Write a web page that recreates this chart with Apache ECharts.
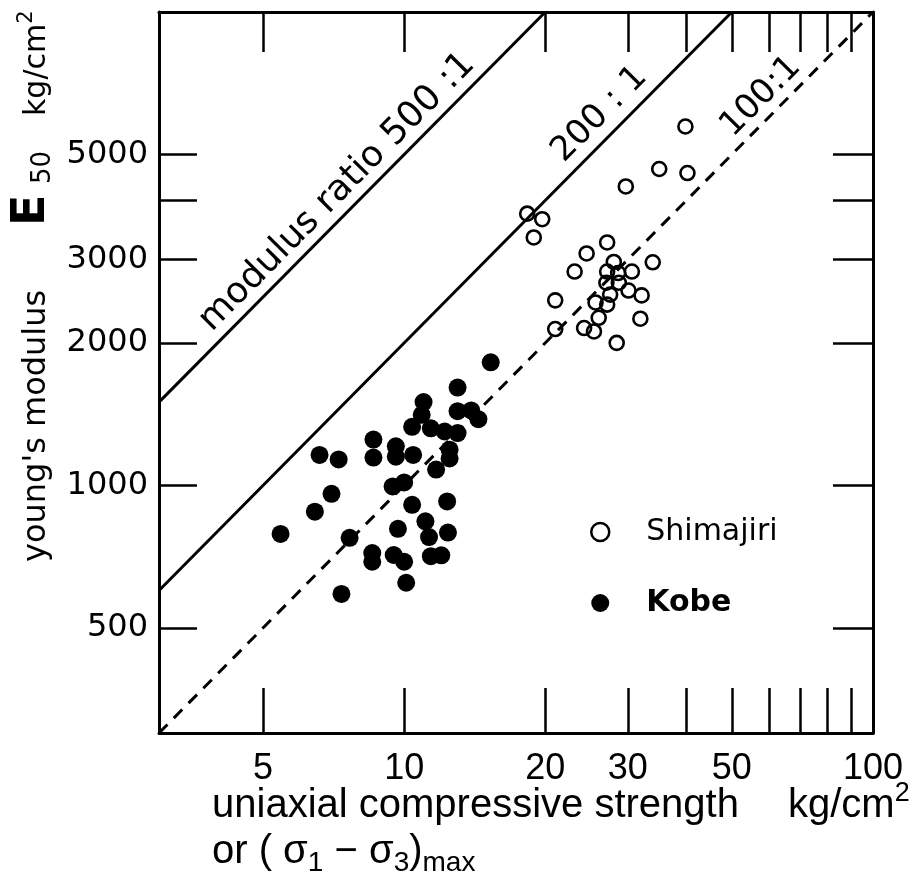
<!DOCTYPE html>
<html>
<head>
<meta charset="utf-8">
<script src="https://cdn.jsdelivr.net/npm/echarts@6/dist/echarts.min.js"></script>
<style>
html, body { margin: 0; padding: 0; background: #fff; }
#chart { width: 924px; height: 873px; }
</style>
</head>
<body>
<div id="chart"></div>
<script>
// uniaxial compressive strength (kg/cm2) vs young's modulus E50 (kg/cm2)
var shimajiriStrength = [39.8, 35.0, 40.2, 29.7, 18.3, 19.7, 18.9, 27.1, 24.5, 23.1,
  28.0, 27.1, 28.6, 30.6, 33.9, 27.0, 28.7, 30.1, 32.1, 27.5,
  25.6, 27.1, 26.0, 31.9, 24.2, 25.4, 28.4, 21.0, 21.0];
var shimajiriModulus = [5730, 4660, 4570, 4280, 3750, 3650, 3340, 3260, 3090, 2830,
  2965, 2830, 2810, 2830, 2960, 2680, 2680, 2580, 2520, 2530,
  2435, 2410, 2260, 2250, 2150, 2115, 2000, 2460, 2140];

var kobeStrength = [15.3, 13.0, 11.0, 10.9, 10.4, 11.4, 12.2, 13.0, 13.0, 13.9,
  14.4, 12.5, 12.5, 11.7, 8.6, 8.6, 9.6, 10.45, 9.6, 6.6,
  7.25, 7.0, 6.45, 5.45, 7.65, 9.45, 10.0, 10.4, 12.35, 9.7,
  11.1, 11.3, 12.4, 8.55, 8.55, 9.5, 10.0, 11.4, 12.0, 10.1, 7.35];
var kobeModulus = [1820, 1610, 1500, 1410, 1330, 1320, 1300, 1290, 1435, 1440,
  1380, 1190, 1140, 1080, 1250, 1145, 1210, 1160, 1150, 1160,
  1135, 960, 880, 790, 775, 995, 1015, 910, 925, 810,
  840, 778, 795, 720, 690, 713, 690, 709, 712, 623, 590];

// modulus ratio E50 / strength
var ratios = [500, 200, 100];
var ratioNames = ['modulus ratio 500 :1', '200 : 1', '100:1'];

var xMin = 3, xMax = 100, yMin = 300, yMax = 10000;
var xTicks = [5, 10, 20, 30, 40, 50, 60, 70, 80, 90, 100];
var xLabels = [5, 10, 20, 30, 50, 100];
var yTicks = [500, 1000, 2000, 3000, 4000, 5000];
var yLabels = [500, 1000, 2000, 3000, 5000];

var chart = echarts.init(document.getElementById('chart'));

function pairs(xs, ys) {
  var out = [];
  for (var i = 0; i < xs.length; i++) out.push([xs[i], ys[i]]);
  return out;
}

function ratioLine(r) {
  return [[xMin, xMin * r], [yMax / r, yMax]];
}

function fmt(v) {
  return '' + Math.round(v);
}

function strengthAxis(pos, tickLen, showLabel) {
  return {
    type: 'log', logBase: 10, min: xMin, max: xMax, position: pos,
    axisLine: { show: true, onZero: false, lineStyle: { color: '#000', width: 3 } },
    axisTick: { show: true, inside: true, length: tickLen, customValues: xTicks,
      lineStyle: { color: '#000', width: 2.5 } },
    axisLabel: { show: showLabel, customValues: xLabels, margin: 18, formatter: fmt,
      color: '#000', fontSize: 36, fontFamily: "'Liberation Sans Narrow', 'Liberation Sans'" },
    splitLine: { show: false },
    minorTick: { show: false }
  };
}

function modulusAxis(pos, tickLen, showLabel) {
  return {
    type: 'log', logBase: 10, min: yMin, max: yMax, position: pos,
    axisLine: { show: true, onZero: false, lineStyle: { color: '#000', width: 3 } },
    axisTick: { show: true, inside: true, length: tickLen, customValues: yTicks,
      lineStyle: { color: '#000', width: 2.5 } },
    axisLabel: { show: showLabel, customValues: yLabels, margin: 11, formatter: fmt,
      color: '#000', fontSize: 32, fontFamily: 'DejaVu Sans' },
    splitLine: { show: false },
    minorTick: { show: false }
  };
}

var labelPos = ['insideMiddleTop', 'insideEndTop', 'insideEndTop'];
var labelDist = [[0, 3], [106, 5], [90, 3]];
var labelSize = [36, 34, 34];

var series = [];
for (var i = 0; i < ratios.length; i++) {
  var seg = ratioLine(ratios[i]);
  series.push({
    type: 'line',
    data: seg,
    symbol: 'none',
    silent: true,
    lineStyle: { color: '#000', width: 3, type: ratios[i] == 100 ? [12, 9] : 'solid' },
    markLine: {
      symbol: 'none',
      silent: true,
      lineStyle: { width: 0, color: 'rgba(0,0,0,0)' },
      label: {
        show: true, position: labelPos[i], distance: labelDist[i],
        formatter: ratioNames[i], color: '#000', fontSize: labelSize[i], fontFamily: 'DejaVu Sans'
      },
      data: [[{ coord: seg[0] }, { coord: seg[1] }]]
    },
    z: 1
  });
}

series.push({
  name: 'Shimajiri',
  type: 'scatter',
  data: pairs(shimajiriStrength, shimajiriModulus),
  symbol: 'circle',
  symbolSize: 14,
  itemStyle: { color: 'rgba(255,255,255,0)', borderColor: '#000', borderWidth: 2.6, opacity: 1 },
  z: 3
});
series.push({
  name: 'Kobe',
  type: 'scatter',
  data: pairs(kobeStrength, kobeModulus),
  symbol: 'circle',
  symbolSize: 18,
  itemStyle: { color: '#000', opacity: 1 },
  z: 3
});

var rot = Math.PI / 2;

var option = {
  animation: false,
  backgroundColor: '#fff',
  grid: { left: 159, top: 12, width: 714, height: 721, containLabel: false, outerBoundsMode: 'none' },
  xAxis: [strengthAxis('bottom', 45, true), strengthAxis('top', 40, false)],
  yAxis: [modulusAxis('left', 38, true), modulusAxis('right', 40, false)],
  legend: {
    orient: 'vertical', left: 585, top: 512, itemWidth: 18, itemHeight: 18, itemGap: 41,
    icon: 'circle',
    textStyle: { color: '#000', fontSize: 30, fontFamily: 'DejaVu Sans', padding: [0, 0, 0, 32] },
    data: [
      { name: 'Shimajiri', itemStyle: { color: 'rgba(255,255,255,0)', borderColor: '#000', borderWidth: 2.5, opacity: 1 } },
      { name: 'Kobe', textStyle: { fontWeight: 'bold' }, itemStyle: { color: '#000', borderWidth: 0, opacity: 1 } }
    ]
  },
  graphic: [
    // y axis title, rotated
    { type: 'text', x: 37, y: 562, rotation: rot, silent: true,
      style: { text: "young's modulus", fill: '#000', font: '32px "DejaVu Sans"',
        textAlign: 'left', textVerticalAlign: 'middle' } },
    { type: 'text', x: 32, y: 226, rotation: rot, silent: true,
      style: { text: 'E', fill: '#000', font: 'bold 46px "DejaVu Sans"',
        textAlign: 'left', textVerticalAlign: 'middle' } },
    { type: 'text', x: 43, y: 184, rotation: rot, silent: true,
      style: { text: '50', fill: '#000', font: '26px "DejaVu Sans"',
        textAlign: 'left', textVerticalAlign: 'middle' } },
    { type: 'text', x: 37, y: 116, rotation: rot, silent: true,
      style: { text: '{a|kg/cm}{b|2}', fill: '#000', textAlign: 'left', textVerticalAlign: 'middle',
        rich: {
          a: { fontSize: 30, fontFamily: 'DejaVu Sans' },
          b: { fontSize: 21, fontFamily: 'DejaVu Sans', padding: [0, 0, 20, 0] }
        } } },
    // x axis title
    { type: 'text', x: 212, y: 806, silent: true,
      style: { text: 'uniaxial compressive strength', fill: '#000', font: '40px "Liberation Sans"',
        textAlign: 'left', textVerticalAlign: 'middle' } },
    { type: 'text', x: 788, y: 806, silent: true,
      style: { text: '{a|kg/cm}{b|2}', fill: '#000', textAlign: 'left', textVerticalAlign: 'middle',
        rich: {
          a: { fontSize: 40, fontFamily: 'Liberation Sans' },
          b: { fontSize: 27, fontFamily: 'Liberation Sans', padding: [0, 0, 24, 0] }
        } } },
    { type: 'text', x: 212, y: 852, silent: true,
      style: { text: '{a|or ( σ}{s|1}{a| − σ}{s|3}{a|)}{s|max}', fill: '#000',
        textAlign: 'left', textVerticalAlign: 'middle',
        rich: {
          a: { fontSize: 40, fontFamily: 'Liberation Sans' },
          s: { fontSize: 28, fontFamily: 'Liberation Sans', padding: [22, 0, 0, 0] }
        } } }
  ],
  series: series
};

chart.setOption(option);
</script>
</body>
</html>
